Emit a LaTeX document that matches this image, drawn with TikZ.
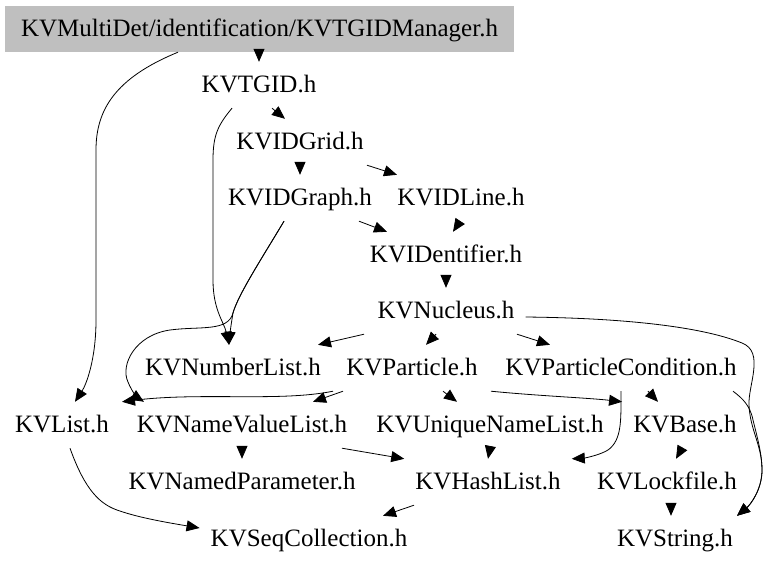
\documentclass[tikz,border=0pt]{standalone}
\usepackage{fontspec}
\setmainfont{Liberation Serif}
\usetikzlibrary{arrows.meta}
\begin{document}
\begin{tikzpicture}[x=1pt,y=-1pt,
  n/.style={anchor=base, inner xsep=11pt, inner ysep=12pt, text height=18pt, text depth=4pt, font=\fontsize{25}{30}\selectfont},
  root/.style={n, fill=lightgray, minimum width=509pt},
  arr/.style={-{Triangle[length=13pt,width=11pt]}, line width=0.8pt, black}]
\useasboundingbox (0,0) rectangle (768,568);
\node[root] (mgr) at (259.5,36) {KVMultiDet/identification/KVTGIDManager.h};
\node[n] (tgid) at (259,92) {KVTGID.h};
\node[n] (idgrid) at (300,149) {KVIDGrid.h};
\node[n] (idgraph) at (300,205) {KVIDGraph.h};
\node[n] (idline) at (461,205) {KVIDLine.h};
\node[n] (ident) at (446,262) {KVIDentifier.h};
\node[n] (nucl) at (446,318) {KVNucleus.h};
\node[n] (numl) at (233,375) {KVNumberList.h};
\node[n] (part) at (412,375) {KVParticle.h};
\node[n] (pc) at (621,375) {KVParticleCondition.h};
\node[n] (kvlist) at (62,432) {KVList.h};
\node[n] (nvl) at (242,432) {KVNameValueList.h};
\node[n] (unl) at (490,432) {KVUniqueNameList.h};
\node[n] (kvbase) at (685,432) {KVBase.h};
\node[n] (npar) at (242,489) {KVNamedParameter.h};
\node[n] (hash) at (488,489) {KVHashList.h};
\node[n] (lock) at (667,489) {KVLockfile.h};
\node[n] (seq) at (309,546) {KVSeqCollection.h};
\node[n] (str) at (675,546) {KVString.h};

% edges
\draw[arr] (mgr.south -| tgid) -- (tgid.north);
\draw[arr] ([xshift=-81.5pt]mgr.south) .. controls (115,78) and (96,110) .. (96,150) -- (96,320) .. controls (96,360) and (86,385) .. ([xshift=13pt]kvlist.north);
\draw[arr] ([xshift=13pt]tgid.south) -- ([xshift=-15pt]idgrid.north);
\draw[arr] ([xshift=-27pt]tgid.south) .. controls (218,125) and (213,135) .. (213,160) -- (213,280) .. controls (213,310) and (224,322) .. ([xshift=-4pt]numl.north);
\draw[arr] (idgrid.south) -- (idgraph.north);
\draw[arr] ([xshift=67pt]idgrid.south) -- ([xshift=-64pt]idline.north);
\draw[arr] ([xshift=59pt]idgraph.south) -- ([xshift=-59pt]ident.north);
\draw[arr] ([xshift=-16pt]idgraph.south) .. controls (262,258) and (238,295) .. (233,313) .. controls (231,325) and (230,333) .. ([xshift=-4pt]numl.north);
\draw[arr] ([xshift=-16pt]idgraph.south) .. controls (262,258) and (238,295) .. (233,313) .. controls (228,332) and (200,326) .. (170,330) .. controls (135,335) and (120,365) .. (128,382) .. controls (132,392) and (138,398) .. ([xshift=-98pt]nvl.north);
\draw[arr] ([xshift=-1pt]idline.south) -- ([xshift=7pt]ident.north);
\draw[arr] (ident.south) -- (nucl.north);
\draw[arr] ([xshift=-82pt]nucl.south) -- ([xshift=85pt]numl.north);
\draw[arr] ([xshift=-10pt]nucl.south) -- ([xshift=14pt]part.north);
\draw[arr] ([xshift=71pt]nucl.south) -- ([xshift=-71pt]pc.north);
\draw[arr] ([yshift=-6pt]nucl.east) .. controls (620,318) and (700,326) .. (742,343) .. controls (765,352) and (748,385) .. (749,405) .. controls (750,430) and (762,445) .. (762,470) .. controls (762,490) and (750,505) .. ([xshift=62pt]str.north);
\draw[arr] ([xshift=112pt]pc.south) .. controls (742,398) and (750,405) .. (753,420) .. controls (758,440) and (762,455) .. (762,470) .. controls (762,490) and (750,505) .. ([xshift=62pt]str.north);
\draw[arr] ([xshift=27pt]pc.south) -- ([xshift=-27pt]kvbase.north);
\draw[arr] ([xshift=-79pt]part.south) .. controls (280,402) and (200,392) .. ([xshift=60pt]kvlist.north);
\draw[arr] ([xshift=-69pt]part.south) -- ([xshift=71pt]nvl.north);
\draw[arr] ([xshift=31pt]part.south) -- ([xshift=-33pt]unl.north);
\draw[arr] ([xshift=79pt]part.south) .. controls (540,396) and (590,398) .. (kvbase.north west);
\draw[arr] (pc.south) .. controls (621,420) and (622,440) .. (608,450) .. controls (600,455) and (585,458) .. (hash.north east);
\draw[arr] (nvl.south) -- (npar.north);
\draw[arr] ([xshift=100pt]nvl.south) -- (hash.north west);
\draw[arr] (unl.south) -- (hash.north);
\draw[arr] ([xshift=-3pt]kvbase.south) -- ([xshift=9pt]lock.north);
\draw[arr] ([xshift=4pt]lock.south) -- ([xshift=-4pt]str.north);
\draw[arr] ([xshift=8pt]kvlist.south) .. controls (85,490) and (100,505) .. (120,511) .. controls (140,518) and (170,523) .. ([yshift=11pt]seq.west);
\draw[arr] ([xshift=-74pt]hash.south) -- ([xshift=74pt]seq.north);
\end{tikzpicture}
\end{document}
